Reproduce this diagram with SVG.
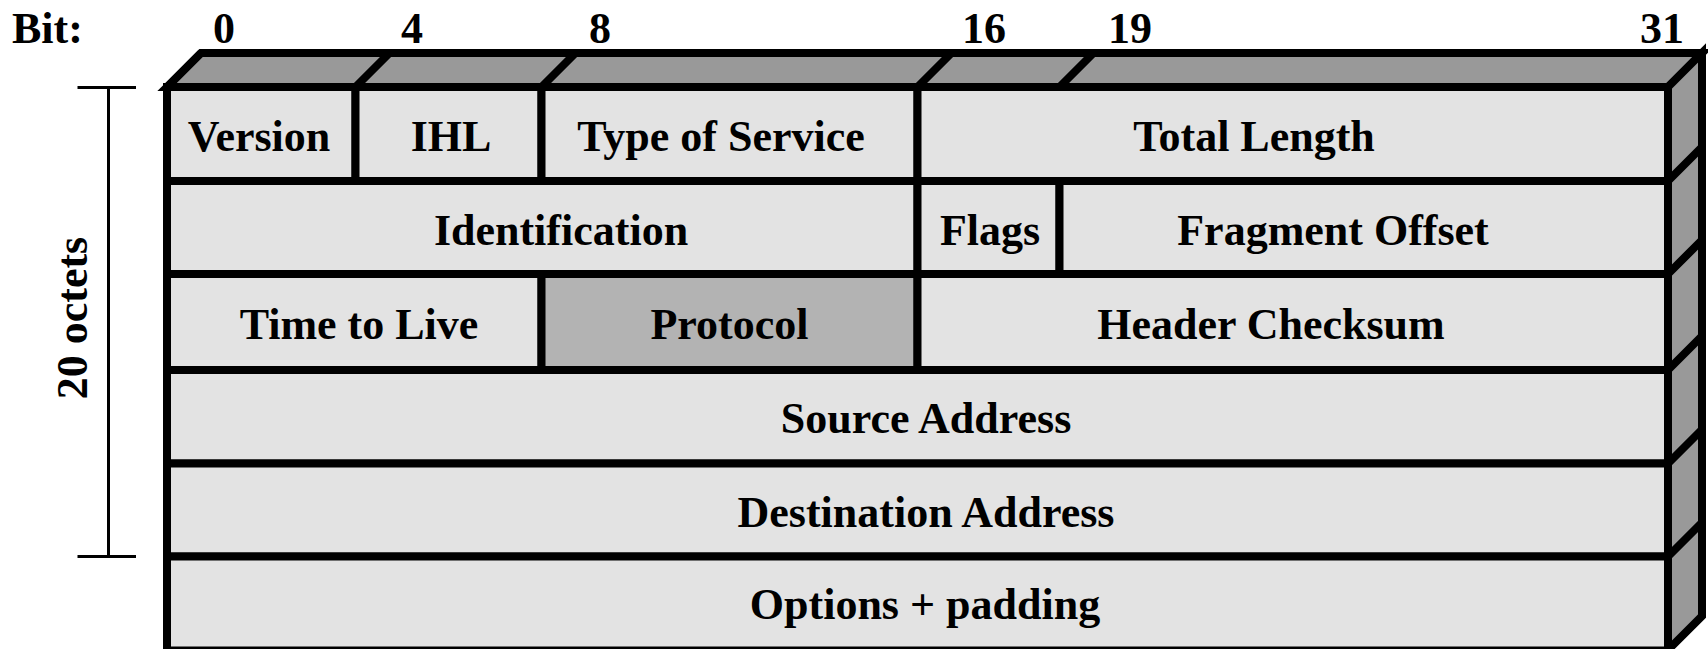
<svg xmlns="http://www.w3.org/2000/svg" width="1708" height="649" viewBox="0 0 1708 649">
<style>
text{font-family:"Liberation Serif","Times New Roman",serif;font-weight:bold;font-size:44px;fill:#000}
.c{text-anchor:middle}
.cell{fill:#e3e3e3;stroke:#000;stroke-width:8}
.hl{fill:#b3b3b3;stroke:#000;stroke-width:8}
.side{fill:#999;stroke:#000;stroke-width:8;stroke-linejoin:miter}
.ln{stroke:#000;stroke-width:8;fill:none}
.br{stroke:#000;stroke-width:3;fill:none}
</style>
<g id="bit-labels">
<text x="12" y="43">Bit:</text>
<text class="c" x="224" y="43">0</text>
<text class="c" x="412" y="43">4</text>
<text class="c" x="600" y="43">8</text>
<text class="c" x="984" y="43">16</text>
<text class="c" x="1130" y="43">19</text>
<text class="c" x="1662" y="43">31</text>
</g>
<g id="box-3d">
<polygon class="side" points="167,87 201,53 1702,53 1668,87"/>
<polygon class="side" points="1668,87 1702,53 1702,616 1668,650"/>
<path class="ln" d="M355.5,87 L389.5,53 M541.5,87 L575.5,53 M917.5,87 L951.5,53 M1059.5,87 L1093.5,53 M1668,181 L1702,147 M1668,274 L1702,240 M1668,370 L1702,336 M1668,463.5 L1702,429.5 M1668,556.5 L1702,522.5"/>
</g>
<g id="version"><rect class="cell" x="167" y="87" width="188.5" height="94"/><text class="c" x="259" y="151">Version</text></g>
<g id="ihl"><rect class="cell" x="355.5" y="87" width="186" height="94"/><text class="c" x="451" y="151">IHL</text></g>
<g id="tos"><rect class="cell" x="541.5" y="87" width="376" height="94"/><text class="c" x="721" y="151">Type of Service</text></g>
<g id="total-length"><rect class="cell" x="917.5" y="87" width="750.5" height="94"/><text class="c" x="1254" y="151">Total Length</text></g>
<g id="identification"><rect class="cell" x="167" y="181" width="750.5" height="93"/><text class="c" x="561" y="245">Identification</text></g>
<g id="flags"><rect class="cell" x="917.5" y="181" width="142" height="93"/><text class="c" x="990" y="245">Flags</text></g>
<g id="fragment-offset"><rect class="cell" x="1059.5" y="181" width="608.5" height="93"/><text class="c" x="1333" y="245">Fragment Offset</text></g>
<g id="ttl"><rect class="cell" x="167" y="274" width="374.5" height="96"/><text class="c" x="359" y="339">Time to Live</text></g>
<g id="protocol"><rect class="hl" x="541.5" y="274" width="376" height="96"/><text class="c" x="729.5" y="339">Protocol</text></g>
<g id="header-checksum"><rect class="cell" x="917.5" y="274" width="750.5" height="96"/><text class="c" x="1271" y="339">Header Checksum</text></g>
<g id="source-address"><rect class="cell" x="167" y="370" width="1501" height="93.5"/><text class="c" x="926" y="433">Source Address</text></g>
<g id="destination-address"><rect class="cell" x="167" y="463.5" width="1501" height="93"/><text class="c" x="926" y="527">Destination Address</text></g>
<g id="options-padding"><rect class="cell" x="167" y="556.5" width="1501" height="94"/><text class="c" x="925" y="619">Options + padding</text></g>
<path class="ln" d="M167,87 L201,53"/>
<g id="connectors">
<path class="br" d="M77.5,87.5 H136 M108.5,87.5 V556.5 M77.5,556.5 H136"/>
</g>
<g id="octets-label">
<text class="c" transform="translate(86.5,318) rotate(-90)">20 octets</text>
</g>
</svg>
